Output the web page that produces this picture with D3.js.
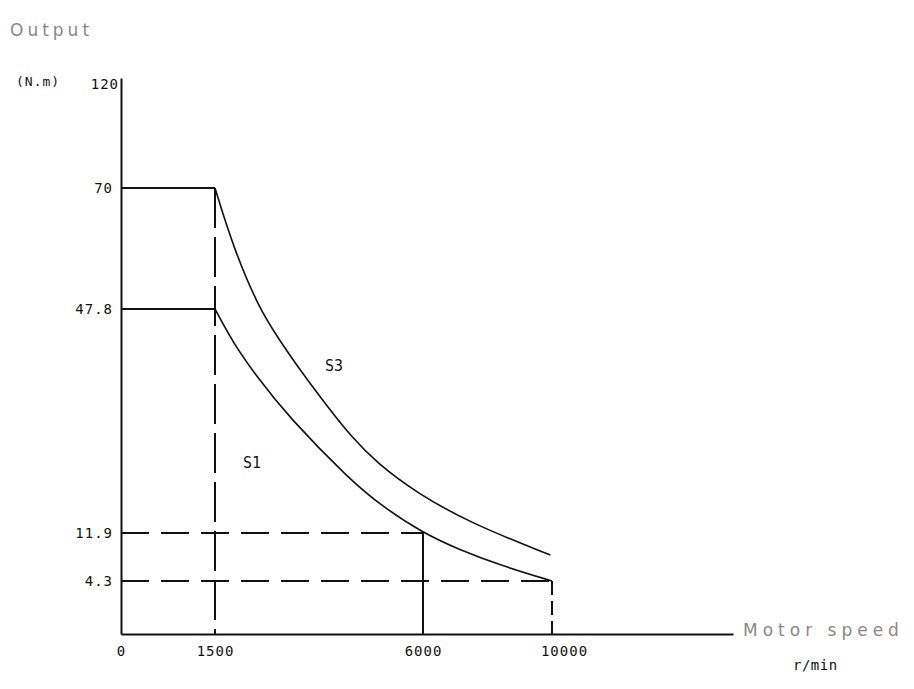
<!DOCTYPE html>
<html>
<head>
<meta charset="utf-8">
<script src="https://cdn.jsdelivr.net/npm/d3@7"></script>
<style>
  body { margin: 0; background: #fff; }
  .tick text { font-family: "DejaVu Sans Mono", monospace; font-size: 14px; letter-spacing: 1px; fill: #111; }
</style>
</head>
<body>
<div id="chart"></div>
<script>
var width = 914,
    height = 689;

// speed ticks (r/min) and torque ticks (N.m)
var speedTicks = [0, 1500, 6000, 10000];
var torqueTicks = [4.3, 11.9, 47.8, 70, 120];
var speedMax = 15600;

// S3 duty curve
var s3Speed  = [1500, 1890, 2470, 2900, 3340, 3990, 4420, 5000, 5870, 7460, 9950];
var s3Torque = [70, 59.2, 47.6, 42.8, 38.0, 31.6, 27.6, 23.1, 18.3, 13.5, 8.4];
// S1 duty curve
var s1Speed  = [1500, 1890, 2410, 3080, 4420, 5130, 6000, 7150, 8390, 10000];
var s1Torque = [47.8, 42.4, 36.9, 30.6, 20.4, 16.1, 11.9, 9.2, 6.8, 4.3];

// the original drawing is not to scale, so the scales are piecewise
var x = d3.scaleLinear()
    .domain([0, 1500, 6000, 10000, speedMax])
    .range([121, 215, 423, 552, 733]);
var y = d3.scaleLinear()
    .domain([0, 4.3, 11.9, 47.8, 70, 120])
    .range([634, 581, 533, 309, 188, 78]);

var svg = d3.select("#chart").append("svg")
    .attr("width", width)
    .attr("height", height);

var ink = "#111";

// x axis
svg.append("g")
    .attr("transform", "translate(0," + y(0) + ")")
    .call(d3.axisBottom(x).tickValues(speedTicks).tickSize(0).tickPadding(12).tickSizeOuter(0).tickFormat(d3.format("d")))
    .call(function(g) {
        g.select(".domain").attr("stroke", ink).attr("stroke-width", 2);
        g.selectAll(".tick text").filter(function(d) { return d === 10000; }).attr("dx", 12);
    });

// y axis
svg.append("g")
    .attr("transform", "translate(" + x(0) + ",0)")
    .call(d3.axisLeft(y).tickValues(torqueTicks).tickSize(0).tickPadding(8).tickSizeOuter(0).tickFormat(d3.format("")))
    .call(function(g) {
        g.select(".domain").attr("stroke", ink).attr("stroke-width", 2);
        g.selectAll(".tick text").filter(function(d) { return d === 120; }).attr("dy", "0.75em").attr("x", -2);
    });

// constant torque segments
[70, 47.8].forEach(function(t) {
    svg.append("line")
        .attr("x1", x(0)).attr("x2", x(1500))
        .attr("y1", y(t)).attr("y2", y(t))
        .attr("stroke", ink).attr("stroke-width", 2);
});

// dashed guides
svg.append("line")
    .attr("x1", x(1500)).attr("x2", x(1500))
    .attr("y1", y(70)).attr("y2", y(0))
    .attr("stroke", ink).attr("stroke-width", 2).attr("stroke-dasharray", "40,9");
svg.append("line")
    .attr("x1", x(0)).attr("x2", x(6000))
    .attr("y1", y(11.9)).attr("y2", y(11.9))
    .attr("stroke", ink).attr("stroke-width", 2).attr("stroke-dasharray", "28,12");
svg.append("line")
    .attr("x1", x(0)).attr("x2", x(10000))
    .attr("y1", y(4.3)).attr("y2", y(4.3))
    .attr("stroke", ink).attr("stroke-width", 2).attr("stroke-dasharray", "28,12");
svg.append("line")
    .attr("x1", x(6000)).attr("x2", x(6000))
    .attr("y1", y(11.9)).attr("y2", y(0))
    .attr("stroke", ink).attr("stroke-width", 2);
svg.append("line")
    .attr("x1", x(10000)).attr("x2", x(10000))
    .attr("y1", y(4.3)).attr("y2", y(0))
    .attr("stroke", ink).attr("stroke-width", 2).attr("stroke-dasharray", "14,6");

// curves
var line = d3.line()
    .x(function(d) { return x(d[0]); })
    .y(function(d) { return y(d[1]); })
    .curve(d3.curveBasis);

svg.append("path")
    .datum(d3.zip(s3Speed, s3Torque))
    .attr("d", line)
    .attr("fill", "none").attr("stroke", ink).attr("stroke-width", 1.6);
svg.append("path")
    .datum(d3.zip(s1Speed, s1Torque))
    .attr("d", line)
    .attr("fill", "none").attr("stroke", ink).attr("stroke-width", 1.6);

// curve labels
var mono = "'DejaVu Sans Mono', monospace";
svg.append("text").attr("x", x(3880)).attr("y", y(37.9))
    .attr("font-family", mono).attr("font-size", 15).attr("fill", ink).text("S3");
svg.append("text").attr("x", x(2105)).attr("y", y(22.3))
    .attr("font-family", mono).attr("font-size", 15).attr("fill", ink).text("S1");

// titles
svg.append("text").attr("x", 10).attr("y", 36)
    .attr("font-family", "DejaVu Sans, sans-serif").attr("font-size", 17)
    .attr("letter-spacing", 4).attr("fill", "#888").text("Output");
svg.append("text").attr("x", 16).attr("y", 86)
    .attr("font-family", mono).attr("font-size", 13)
    .attr("letter-spacing", 1).attr("fill", ink).text("(N.m)");
svg.append("text").attr("x", 743).attr("y", 636)
    .attr("font-family", "DejaVu Sans, sans-serif").attr("font-size", 17)
    .attr("letter-spacing", 5).attr("fill", "#888").text("Motor speed");
svg.append("text").attr("x", 793).attr("y", 670)
    .attr("font-family", mono).attr("font-size", 14)
    .attr("letter-spacing", 0.5).attr("fill", ink).text("r/min");
</script>
</body>
</html>
